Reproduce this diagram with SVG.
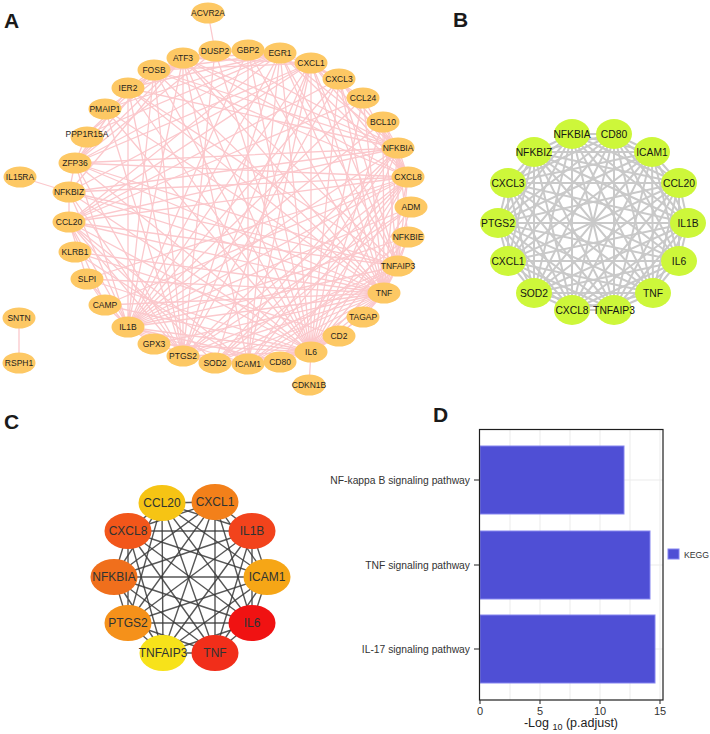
<svg xmlns="http://www.w3.org/2000/svg" width="710" height="734" viewBox="0 0 710 734">
<style>
text{font-family:"Liberation Sans",Arial,Helvetica,sans-serif}
.lbl{font-size:21px;font-weight:bold;fill:#1a1a1a}
.ea{stroke:#fbc8cc;stroke-width:1.3;fill:none}
.na ellipse{fill:#fdc864}
.na text{font-size:8.5px;fill:#1e1e1e;text-anchor:middle}
.eb{stroke:#c9c9c9;stroke-width:2;fill:none}
.nb ellipse{fill:#cdf73a}
.nb text{font-size:10.3px;fill:#151515;text-anchor:middle}
.ec{stroke:#3a3a3a;stroke-width:1.4;fill:none;stroke-opacity:0.85}
.nc text{font-size:12px;fill:#2e3333;text-anchor:middle}
.grid{stroke:#ebebeb;stroke-width:1}
.bar{fill:#4f4fd5;stroke:#8585f0;stroke-width:1}
.ax{font-size:10.3px;fill:#333}
.tk{font-size:11px;fill:#333;text-anchor:middle}
</style>
<rect width="710" height="734" fill="#ffffff"/>

<!-- Panel labels -->
<text class="lbl" x="4" y="28">A</text>
<text class="lbl" x="453" y="27">B</text>
<text class="lbl" x="4" y="429">C</text>
<text class="lbl" x="433" y="422">D</text>

<!-- Panel A connectors -->
<g id="edges-A" class="ea">
<path d="M311 352L384 293M311 352L128 327M311 352L183 356M311 352L408 177M311 352L248 364M311 352L311 63M311 352L69 222M311 352L215 363M311 352L398 148M311 352L398 266M311 352L280 362M311 352L339 336M311 352L183 58M311 352L280 53M311 352L154 70M311 352L75 163M311 352L339 79M311 352L411 207M311 352L87 279M311 352L105 305M311 352L154 344M311 352L69 192M311 352L383 122M311 352L128 88M311 352L363 98M311 352L105 109M311 352L215 51M311 352L408 237M311 352L363 317M311 352L248 50"/>
<path d="M384 293L128 327M384 293L183 356M384 293L408 177M384 293L248 364M384 293L311 63M384 293L69 222M384 293L215 363M384 293L398 148M384 293L398 266M384 293L280 362M384 293L339 336M384 293L183 58M384 293L280 53M384 293L154 70M384 293L75 163M384 293L339 79M384 293L411 207M384 293L87 279M384 293L105 305M384 293L154 344M384 293L69 192M384 293L383 122M384 293L408 237M384 293L128 88M384 293L105 109M384 293L75 252M384 293L363 317M384 293L363 98M384 293L248 50"/>
<path d="M128 327L183 356M128 327L408 177M128 327L248 364M128 327L311 63M128 327L69 222M128 327L215 363M128 327L398 148M128 327L398 266M128 327L280 362M128 327L280 53M128 327L183 58M128 327L154 70M128 327L75 163M128 327L339 79M128 327L411 207M128 327L87 279M128 327L105 305M128 327L69 192M128 327L383 122M128 327L408 237M128 327L363 98M128 327L128 88M128 327L154 344"/>
<path d="M183 356L408 177M183 356L248 364M183 356L311 63M183 356L69 222M183 356L215 363M183 356L398 148M183 356L398 266M183 356L280 53M183 356L183 58M183 356L154 70M183 356L75 163M183 356L411 207M183 356L128 88M183 356L215 51M183 356L105 109M183 356L69 192M183 356L339 79"/>
<path d="M408 177L248 364M408 177L311 63M408 177L69 222M408 177L215 363M408 177L398 148M408 177L398 266M408 177L280 53M408 177L183 58M408 177L154 70M408 177L339 79M408 177L87 279M408 177L105 305M408 177L69 192M408 177L383 122M408 177L280 362M408 177L75 163M408 177L363 98"/>
<path d="M248 364L311 63M248 364L69 222M248 364L215 363M248 364L398 148M248 364L398 266M248 364L280 362M248 364L339 336M248 364L280 53M248 364L183 58M248 364L408 237M248 364L75 252M248 364L248 50"/>
<path d="M398 148L311 63M398 148L69 222M398 148L215 363M398 148L398 266M398 148L408 237M398 148L69 192M398 148L383 122M398 148L280 53M398 148L183 58M398 148L154 70M398 148L75 163M398 148L128 88M398 148L339 79M398 148L215 51"/>
<path d="M311 63L69 222M311 63L339 79M311 63L398 266M311 63L215 363M311 63L280 53M311 63L183 58M311 63L154 70M311 63L75 163M311 63L69 192M311 63L363 98"/>
<path d="M280 53L183 58M280 53L154 70M280 53L128 88M280 53L215 51M280 53L75 163M280 53L105 109M280 53L398 266M280 53L69 222M280 53L87 134M280 53L339 79"/>
<path d="M183 58L154 70M183 58L128 88M183 58L215 51M183 58L75 163M183 58L105 109M183 58L87 134M183 58L398 266M183 58L69 192"/>
<path d="M154 70L128 88M154 70L215 51M154 70L75 163M154 70L87 134"/>
<path d="M398 266L69 222M398 266L215 363M398 266L69 192M398 266L408 237M398 266L383 122M398 266L75 163M398 266L339 79M398 266L128 88"/>
<path d="M69 222L339 79M69 222L215 363M69 222L69 192M69 222L363 98M69 222L105 305M69 222L87 279"/>
<path d="M75 163L128 88M75 163L215 51M75 163L69 192M75 163L87 134"/>
<path d="M215 363L154 344M215 363L411 207M280 362L339 336M339 336L75 252M105 305L87 279M248 50L128 327"/>
<path d="M208 13L215 51M20 177L69 192M309 385L311 352M19 318L19 363"/>
</g>

<!-- Panel A nodes -->
<g id="a-ACVR2A" class="na"><ellipse cx="208" cy="13" rx="16.5" ry="10.5"/><text x="208" y="16">ACVR2A</text></g>
<g id="a-DUSP2" class="na"><ellipse cx="215" cy="51" rx="16.5" ry="10.5"/><text x="215" y="54">DUSP2</text></g>
<g id="a-GBP2" class="na"><ellipse cx="248" cy="50" rx="16.5" ry="10.5"/><text x="248" y="53">GBP2</text></g>
<g id="a-EGR1" class="na"><ellipse cx="280" cy="53" rx="16.5" ry="10.5"/><text x="280" y="56">EGR1</text></g>
<g id="a-CXCL1" class="na"><ellipse cx="311" cy="63" rx="16.5" ry="10.5"/><text x="311" y="66">CXCL1</text></g>
<g id="a-CXCL3" class="na"><ellipse cx="339" cy="79" rx="16.5" ry="10.5"/><text x="339" y="82">CXCL3</text></g>
<g id="a-CCL24" class="na"><ellipse cx="363" cy="98" rx="16.5" ry="10.5"/><text x="363" y="101">CCL24</text></g>
<g id="a-BCL10" class="na"><ellipse cx="383" cy="122" rx="16.5" ry="10.5"/><text x="383" y="125">BCL10</text></g>
<g id="a-NFKBIA" class="na"><ellipse cx="398" cy="148" rx="16.5" ry="10.5"/><text x="398" y="151">NFKBIA</text></g>
<g id="a-CXCL8" class="na"><ellipse cx="408" cy="177" rx="16.5" ry="10.5"/><text x="408" y="180">CXCL8</text></g>
<g id="a-ADM" class="na"><ellipse cx="411" cy="207" rx="16.5" ry="10.5"/><text x="411" y="210">ADM</text></g>
<g id="a-NFKBIE" class="na"><ellipse cx="408" cy="237" rx="16.5" ry="10.5"/><text x="408" y="240">NFKBIE</text></g>
<g id="a-TNFAIP3" class="na"><ellipse cx="398" cy="266" rx="16.5" ry="10.5"/><text x="398" y="269">TNFAIP3</text></g>
<g id="a-TNF" class="na"><ellipse cx="384" cy="293" rx="16.5" ry="10.5"/><text x="384" y="296">TNF</text></g>
<g id="a-TAGAP" class="na"><ellipse cx="363" cy="317" rx="16.5" ry="10.5"/><text x="363" y="320">TAGAP</text></g>
<g id="a-CD2" class="na"><ellipse cx="339" cy="336" rx="16.5" ry="10.5"/><text x="339" y="339">CD2</text></g>
<g id="a-IL6" class="na"><ellipse cx="311" cy="352" rx="16.5" ry="10.5"/><text x="311" y="355">IL6</text></g>
<g id="a-CD80" class="na"><ellipse cx="280" cy="362" rx="16.5" ry="10.5"/><text x="280" y="365">CD80</text></g>
<g id="a-ICAM1" class="na"><ellipse cx="248" cy="364" rx="16.5" ry="10.5"/><text x="248" y="367">ICAM1</text></g>
<g id="a-SOD2" class="na"><ellipse cx="215" cy="363" rx="16.5" ry="10.5"/><text x="215" y="366">SOD2</text></g>
<g id="a-PTGS2" class="na"><ellipse cx="183" cy="356" rx="16.5" ry="10.5"/><text x="183" y="359">PTGS2</text></g>
<g id="a-GPX3" class="na"><ellipse cx="154" cy="344" rx="16.5" ry="10.5"/><text x="154" y="347">GPX3</text></g>
<g id="a-IL1B" class="na"><ellipse cx="128" cy="327" rx="16.5" ry="10.5"/><text x="128" y="330">IL1B</text></g>
<g id="a-CAMP" class="na"><ellipse cx="105" cy="305" rx="16.5" ry="10.5"/><text x="105" y="308">CAMP</text></g>
<g id="a-SLPI" class="na"><ellipse cx="87" cy="279" rx="16.5" ry="10.5"/><text x="87" y="282">SLPI</text></g>
<g id="a-KLRB1" class="na"><ellipse cx="75" cy="252" rx="16.5" ry="10.5"/><text x="75" y="255">KLRB1</text></g>
<g id="a-CCL20" class="na"><ellipse cx="69" cy="222" rx="16.5" ry="10.5"/><text x="69" y="225">CCL20</text></g>
<g id="a-NFKBIZ" class="na"><ellipse cx="69" cy="192" rx="16.5" ry="10.5"/><text x="69" y="195">NFKBIZ</text></g>
<g id="a-ZFP36" class="na"><ellipse cx="75" cy="163" rx="16.5" ry="10.5"/><text x="75" y="166">ZFP36</text></g>
<g id="a-PPP1R15A" class="na"><ellipse cx="87" cy="137" rx="16.5" ry="10.5"/><text x="87" y="137">PPP1R15A</text></g>
<g id="a-PMAIP1" class="na"><ellipse cx="105" cy="109" rx="16.5" ry="10.5"/><text x="105" y="112">PMAIP1</text></g>
<g id="a-IER2" class="na"><ellipse cx="128" cy="88" rx="16.5" ry="10.5"/><text x="128" y="91">IER2</text></g>
<g id="a-FOSB" class="na"><ellipse cx="154" cy="70" rx="16.5" ry="10.5"/><text x="154" y="73">FOSB</text></g>
<g id="a-ATF3" class="na"><ellipse cx="183" cy="58" rx="16.5" ry="10.5"/><text x="183" y="61">ATF3</text></g>
<g id="a-IL15RA" class="na"><ellipse cx="20" cy="177" rx="16.5" ry="10.5"/><text x="20" y="180">IL15RA</text></g>
<g id="a-CDKN1B" class="na"><ellipse cx="309" cy="385" rx="16.5" ry="10.5"/><text x="309" y="388">CDKN1B</text></g>
<g id="a-SNTN" class="na"><ellipse cx="19" cy="318" rx="16.5" ry="10.5"/><text x="19" y="321">SNTN</text></g>
<g id="a-RSPH1" class="na"><ellipse cx="19" cy="363" rx="16.5" ry="10.5"/><text x="19" y="366">RSPH1</text></g>

<!-- Panel B connectors -->
<g id="edges-B" class="eb">
<path d="M572 134L614 134M572 134L652 152M572 134L679 183M572 134L688 223M572 134L679 261M572 134L653 293M572 134L614 310M572 134L572 310M572 134L534 293M572 134L508 261M572 134L498 223M572 134L508 183M572 134L534 152"/>
<path d="M614 134L652 152M614 134L679 183M614 134L688 223M614 134L679 261M614 134L653 293M614 134L614 310M614 134L572 310M614 134L534 293M614 134L508 261M614 134L498 223M614 134L508 183M614 134L534 152"/>
<path d="M652 152L679 183M652 152L688 223M652 152L679 261M652 152L653 293M652 152L614 310M652 152L572 310M652 152L534 293M652 152L508 261M652 152L498 223M652 152L508 183M652 152L534 152"/>
<path d="M679 183L688 223M679 183L679 261M679 183L653 293M679 183L614 310M679 183L572 310M679 183L534 293M679 183L508 261M679 183L498 223M679 183L508 183M679 183L534 152"/>
<path d="M688 223L679 261M688 223L653 293M688 223L614 310M688 223L572 310M688 223L534 293M688 223L508 261M688 223L498 223M688 223L508 183M688 223L534 152"/>
<path d="M679 261L653 293M679 261L614 310M679 261L572 310M679 261L534 293M679 261L508 261M679 261L498 223M679 261L508 183M679 261L534 152"/>
<path d="M653 293L614 310M653 293L572 310M653 293L534 293M653 293L508 261M653 293L498 223M653 293L508 183M653 293L534 152"/>
<path d="M614 310L572 310M614 310L534 293M614 310L508 261M614 310L498 223M614 310L508 183M614 310L534 152"/>
<path d="M572 310L534 293M572 310L508 261M572 310L498 223M572 310L508 183M572 310L534 152"/>
<path d="M534 293L508 261M534 293L498 223M534 293L508 183M534 293L534 152"/>
<path d="M508 261L498 223M508 261L508 183M508 261L534 152M498 223L508 183M498 223L534 152M508 183L534 152"/>
</g>

<!-- Panel B nodes -->
<g id="b-NFKBIA" class="nb"><ellipse cx="572" cy="134" rx="18" ry="15"/><text x="572" y="138">NFKBIA</text></g>
<g id="b-CD80" class="nb"><ellipse cx="614" cy="134" rx="18" ry="15"/><text x="614" y="138">CD80</text></g>
<g id="b-ICAM1" class="nb"><ellipse cx="652" cy="152" rx="18" ry="15"/><text x="652" y="156">ICAM1</text></g>
<g id="b-CCL20" class="nb"><ellipse cx="679" cy="183" rx="18" ry="15"/><text x="679" y="187">CCL20</text></g>
<g id="b-IL1B" class="nb"><ellipse cx="688" cy="223" rx="18" ry="15"/><text x="688" y="227">IL1B</text></g>
<g id="b-IL6" class="nb"><ellipse cx="679" cy="261" rx="18" ry="15"/><text x="679" y="265">IL6</text></g>
<g id="b-TNF" class="nb"><ellipse cx="653" cy="293" rx="18" ry="15"/><text x="653" y="297">TNF</text></g>
<g id="b-TNFAIP3" class="nb"><ellipse cx="614" cy="310" rx="18" ry="15"/><text x="614" y="314" fill="#333">TNFAIP3</text></g>
<g id="b-CXCL8" class="nb"><ellipse cx="572" cy="310" rx="18" ry="15"/><text x="572" y="314">CXCL8</text></g>
<g id="b-SOD2" class="nb"><ellipse cx="534" cy="293" rx="18" ry="15"/><text x="534" y="297">SOD2</text></g>
<g id="b-CXCL1" class="nb"><ellipse cx="508" cy="261" rx="18" ry="15"/><text x="508" y="265">CXCL1</text></g>
<g id="b-PTGS2" class="nb"><ellipse cx="498" cy="223" rx="18" ry="15"/><text x="498" y="227">PTGS2</text></g>
<g id="b-CXCL3" class="nb"><ellipse cx="508" cy="183" rx="18" ry="15"/><text x="508" y="187">CXCL3</text></g>
<g id="b-NFKBIZ" class="nb"><ellipse cx="534" cy="152" rx="18" ry="15"/><text x="534" y="156">NFKBIZ</text></g>

<!-- Panel C connectors -->
<g id="edges-C" class="ec">
<path d="M162 503L215 502M162 503L252 531M162 503L267 577M162 503L252 623M162 503L215 653M162 503L163 653M162 503L128 623M162 503L114 577M162 503L128 531"/>
<path d="M215 502L252 531M215 502L267 577M215 502L252 623M215 502L215 653M215 502L163 653M215 502L128 623M215 502L114 577M215 502L128 531"/>
<path d="M252 531L267 577M252 531L252 623M252 531L215 653M252 531L163 653M252 531L128 623M252 531L114 577M252 531L128 531"/>
<path d="M267 577L252 623M267 577L215 653M267 577L163 653M267 577L128 623M267 577L114 577M267 577L128 531"/>
<path d="M252 623L215 653M252 623L163 653M252 623L128 623M252 623L114 577M252 623L128 531"/>
<path d="M215 653L163 653M215 653L128 623M215 653L114 577M215 653L128 531"/>
<path d="M163 653L128 623M163 653L114 577M163 653L128 531M128 623L114 577M128 623L128 531M114 577L128 531"/>
</g>

<!-- Panel C nodes -->
<g id="c-CCL20" class="nc"><ellipse cx="162" cy="503" rx="23.5" ry="18" fill="#f6c414"/><text x="162" y="507">CCL20</text></g>
<g id="c-CXCL1" class="nc"><ellipse cx="215" cy="502" rx="23.5" ry="18" fill="#f3801a"/><text x="215" y="506">CXCL1</text></g>
<g id="c-IL1B" class="nc"><ellipse cx="252" cy="531" rx="23.5" ry="18" fill="#f2431c"/><text x="252" y="535">IL1B</text></g>
<g id="c-ICAM1" class="nc"><ellipse cx="267" cy="577" rx="23.5" ry="18" fill="#f6a616"/><text x="267" y="581">ICAM1</text></g>
<g id="c-IL6" class="nc"><ellipse cx="252" cy="623" rx="23.5" ry="18" fill="#f01212"/><text x="252" y="627">IL6</text></g>
<g id="c-TNF" class="nc"><ellipse cx="215" cy="653" rx="23.5" ry="18" fill="#f12e1a"/><text x="215" y="657">TNF</text></g>
<g id="c-TNFAIP3" class="nc"><ellipse cx="163" cy="653" rx="23.5" ry="18" fill="#f7e21a"/><text x="163" y="657">TNFAIP3</text></g>
<g id="c-PTGS2" class="nc"><ellipse cx="128" cy="623" rx="23.5" ry="18" fill="#f5911a"/><text x="128" y="627">PTGS2</text></g>
<g id="c-NFKBIA" class="nc"><ellipse cx="114" cy="577" rx="23.5" ry="18" fill="#f06f1c"/><text x="114" y="581">NFKBIA</text></g>
<g id="c-CXCL8" class="nc"><ellipse cx="128" cy="531" rx="23.5" ry="18" fill="#f2561a"/><text x="128" y="535">CXCL8</text></g>

<!-- Panel D: bar chart -->
<g id="chart-D">
<g class="grid">
<line x1="510" y1="430" x2="510" y2="700"/>
<line x1="540" y1="430" x2="540" y2="700"/>
<line x1="570" y1="430" x2="570" y2="700"/>
<line x1="600" y1="430" x2="600" y2="700"/>
<line x1="630" y1="430" x2="630" y2="700"/>
<line x1="660" y1="430" x2="660" y2="700"/>
<line x1="480" y1="480" x2="663" y2="480"/>
<line x1="480" y1="565" x2="663" y2="565"/>
<line x1="480" y1="649" x2="663" y2="649"/>
</g>
<rect class="bar" x="480" y="446" width="144" height="68"/>
<rect class="bar" x="480" y="531" width="170" height="68"/>
<rect class="bar" x="480" y="615" width="175" height="68"/>
<rect x="479.5" y="429.5" width="183.5" height="270.5" fill="none" stroke="#1e1e1e" stroke-width="1.2"/>
<g stroke="#333" stroke-width="1.1">
<line x1="474" y1="480" x2="479" y2="480"/>
<line x1="474" y1="565" x2="479" y2="565"/>
<line x1="474" y1="649" x2="479" y2="649"/>
<line x1="480" y1="700" x2="480" y2="704"/>
<line x1="540" y1="700" x2="540" y2="704"/>
<line x1="600" y1="700" x2="600" y2="704"/>
<line x1="660" y1="700" x2="660" y2="704"/>
</g>
<text class="ax" x="470" y="484" text-anchor="end">NF-kappa B signaling pathway</text>
<text class="ax" x="470" y="569" text-anchor="end">TNF signaling pathway</text>
<text class="ax" x="470" y="653" text-anchor="end">IL-17 signaling pathway</text>
<text class="tk" x="480" y="715">0</text>
<text class="tk" x="540" y="715">5</text>
<text class="tk" x="600" y="715">10</text>
<text class="tk" x="660" y="715">15</text>
<text x="571" y="727" font-size="12.5" fill="#222" text-anchor="middle">-Log <tspan font-size="9" dy="3">10</tspan><tspan dy="-3"> (p.adjust)</tspan></text>
<rect class="bar" x="668" y="549" width="11" height="10"/>
<text x="684" y="557.5" font-size="8.7" fill="#333">KEGG</text>
</g>
</svg>
